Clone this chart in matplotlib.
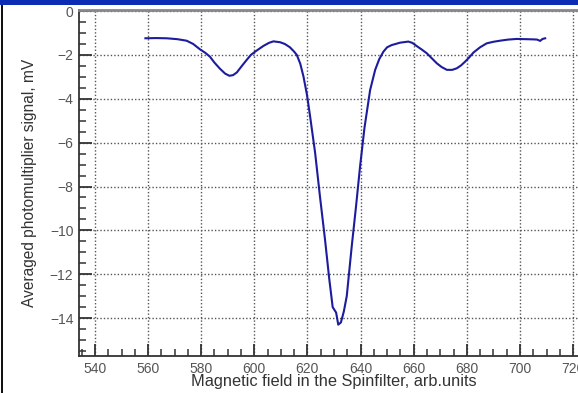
import matplotlib
matplotlib.use("Agg")
import matplotlib.pyplot as plt
from matplotlib.patches import Rectangle
from matplotlib.ticker import MultipleLocator

# Averaged photomultiplier signal versus spin-filter magnetic field
field = [559, 563, 567, 571, 574.5, 577, 579.5, 581.5, 583.3, 585, 587, 589,
         590.6, 592, 593.4, 595, 597.1, 598.7, 600.3, 603.4, 605.5, 607.2,
         609.7, 611.5, 613.4, 615, 616, 617.3, 618.5, 619.8, 621, 622.9,
         624.7, 626.6, 628.2, 629.5, 630.8, 631.6, 632.6, 633.7, 634.8, 636.7,
         638.3, 639.8, 641.5, 643.6, 645.5, 647, 648.6, 650, 651.7, 654.9,
         658, 659.5, 661.2, 663, 664.9, 666.8, 668.7, 670.5, 672.5, 674.5,
         676.2, 677.8, 679.4, 681, 682.5, 685, 687.5, 690, 692.5, 695.5,
         698.8, 702, 705.1, 706.5, 707.6, 708.5, 709.5]
signal = [-1.24, -1.23, -1.24, -1.28, -1.35, -1.5, -1.74, -1.9, -2.08, -2.35,
          -2.62, -2.85, -2.95, -2.92, -2.8, -2.55, -2.23, -2.0, -1.85, -1.59,
          -1.45, -1.38, -1.42, -1.5, -1.65, -1.85, -2.0, -2.4, -2.98, -3.8,
          -4.8, -6.47, -8.44, -10.4, -12.2, -13.5, -13.75, -14.3, -14.2,
          -13.7, -13.0, -10.7, -8.9, -7.1, -5.3, -3.6, -2.68, -2.2, -1.85,
          -1.65, -1.55, -1.44, -1.39, -1.45, -1.6, -1.75, -1.92, -2.15, -2.38,
          -2.55, -2.68, -2.68, -2.61, -2.48, -2.3, -2.1, -1.89, -1.65, -1.47,
          -1.4, -1.35, -1.3, -1.27, -1.28, -1.29, -1.3, -1.36, -1.27, -1.24]

x_ticks = [540, 560, 580, 600, 620, 640, 660, 680, 700, 720]
y_ticks = [0, -2, -4, -6, -8, -10, -12, -14]

plt.rcParams['font.family'] = ['Liberation Sans', 'DejaVu Sans']

W, H = 578, 393
fig = plt.figure(figsize=(W / 100, H / 100), dpi=100)
fig.patch.set_facecolor('white')

# frame decorations: blue header strip and dark left edge
fig.patches.append(Rectangle((0, 1 - 5 / H), 1, 5 / H, transform=fig.transFigure,
                             facecolor='#0b2db4', edgecolor='none', zorder=10))
fig.patches.append(Rectangle((1 / W, 0), 2 / W, 1 - 5 / H, transform=fig.transFigure,
                             facecolor='#111111', edgecolor='none', zorder=10))

left_px, right_px, top_px, bot_px = 79, 589, 10, 356
ax = fig.add_axes([left_px / W, 1 - bot_px / H,
                   (right_px - left_px) / W, (bot_px - top_px) / H])

ax.plot(field, signal, color='#1c1c9c', lw=1.5, zorder=3)

ax.set_xlim(534, 726)
ax.set_ylim(-15.73, 0.05)
ax.set_xticks(x_ticks)
ax.set_yticks(y_ticks)
ax.xaxis.set_minor_locator(MultipleLocator(5))
ax.yaxis.set_minor_locator(MultipleLocator(0.5))

ax.grid(True, which='major', linestyle=(0, (1, 1.5)), color='#555555', lw=1.0)
ax.set_axisbelow(True)

for side in ['left', 'bottom']:
    ax.spines[side].set_color('#333333')
    ax.spines[side].set_linewidth(1.3)
ax.spines['top'].set_color('#888888')
ax.spines['top'].set_linewidth(2.0)
ax.spines['right'].set_visible(False)

ax.tick_params(which='major', direction='in', length=9, width=1.3,
               colors='#333333', labelcolor='#555555', labelsize=10, pad=4)
ax.tick_params(which='minor', direction='in', length=5, width=1.1, colors='#333333')
ax.tick_params(axis='x', top=False)
ax.tick_params(axis='y', right=False)

ax.set_xlabel('Magnetic field in the Spinfilter, arb.units', fontsize=11.8,
              color='#333333', labelpad=-1)
ax.set_ylabel('Averaged photomultiplier signal, mV', fontsize=11.2,
              color='#333333', labelpad=9)

fig.savefig('out.png', dpi=100)
